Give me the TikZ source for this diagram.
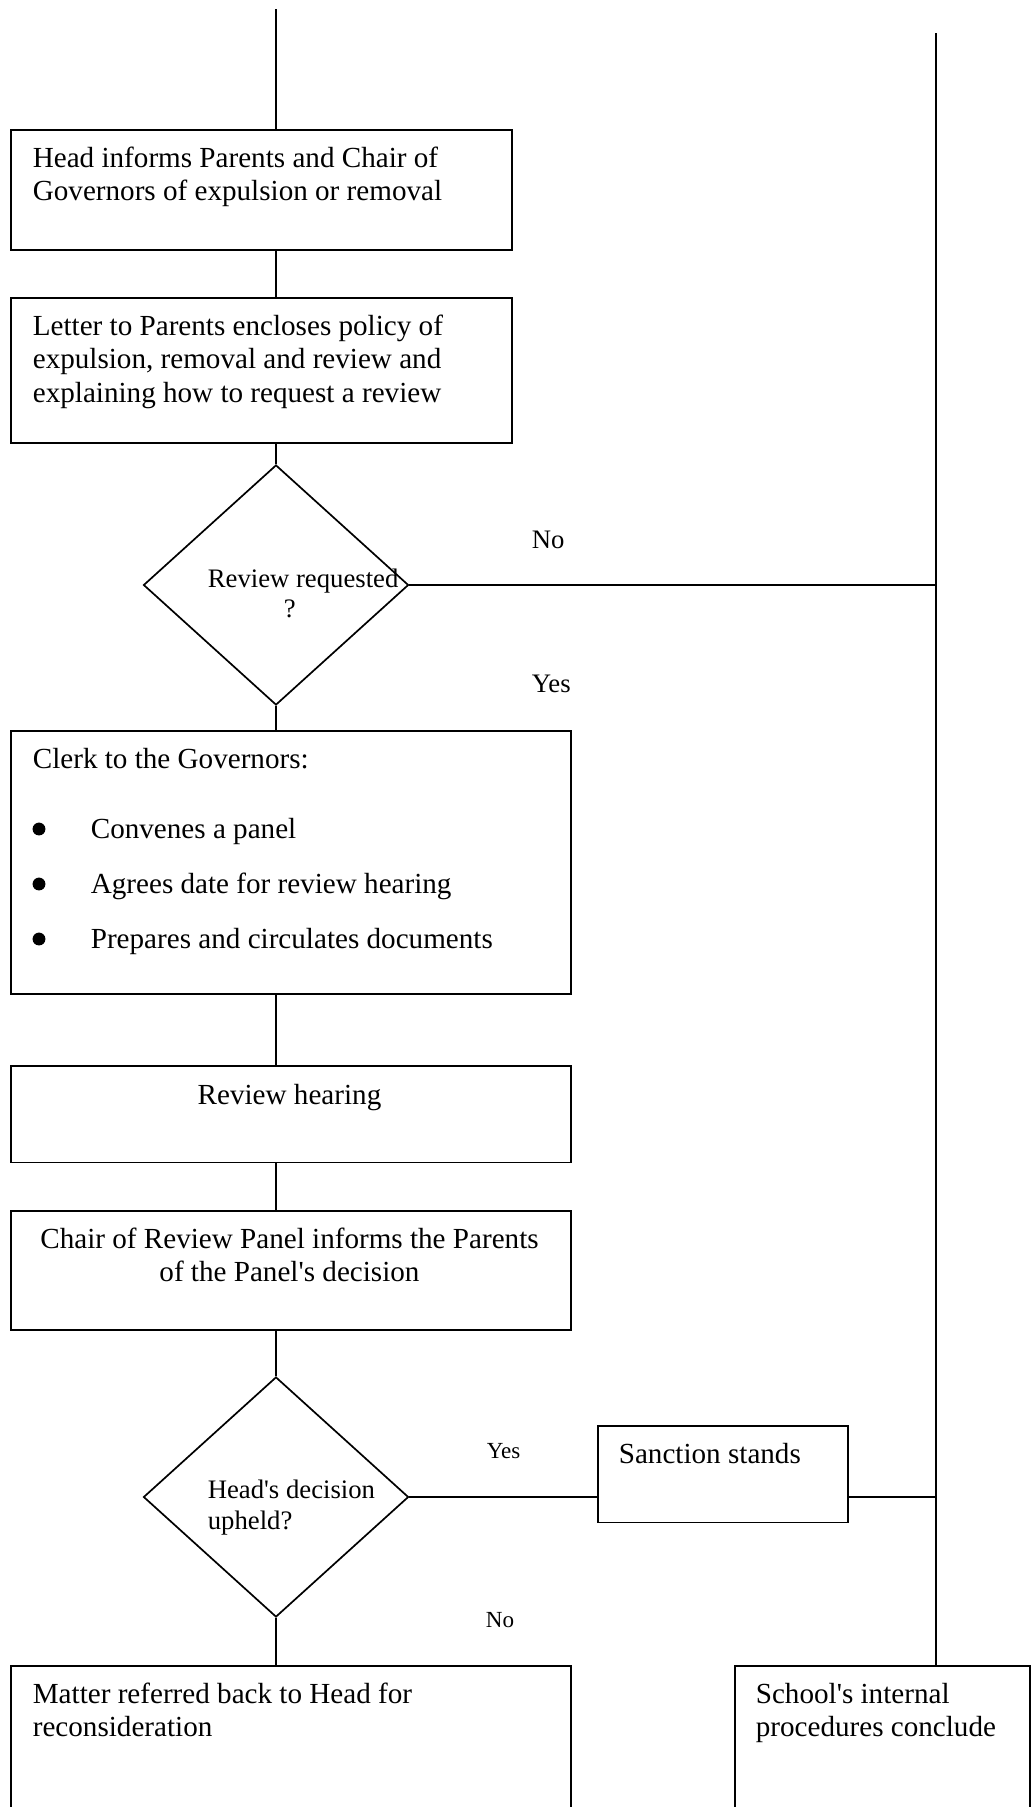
\documentclass[tikz,border=0pt]{standalone}
\usepackage{fontspec}
\setmainfont{Liberation Serif}[Ligatures=TeXOff]
\usetikzlibrary{shapes.geometric}

\begin{document}
\begin{tikzpicture}[x=0.412pt,y=-0.412pt,line width=0.7pt,
		box/.style={draw,rectangle,anchor=north west,inner sep=0pt,minimum width=230.7pt},
		decision/.style={draw,diamond,inner sep=0pt,minimum width=109.2pt,minimum height=98.9pt},
		txt/.style={anchor=base west,inner sep=0pt,align=left,font=\fontsize{12}{13.8}\selectfont},
		ctxt/.style={txt,anchor=base,align=center},
		small/.style={anchor=base west,inner sep=0pt,align=left,font=\fontsize{11}{12.65}\selectfont},
		tiny/.style={small,font=\fontsize{9.5}{11}\selectfont},
		dot/.style={circle,fill,inner sep=0pt,minimum size=5.3pt}]
	\useasboundingbox (0,0) rectangle (1030,1807);

	\coordinate (ltop) at (276,9);
	\coordinate (rtop) at (936,33);

	% boxes
	\node (inform) at (10,129)[box,minimum width=206.4pt,minimum height=49.6pt]{};
	\node (letter) at (10,297)[box,minimum width=206.4pt,minimum height=59.7pt]{};
	\node (req) at (276,585)[decision]{};
	\node (clerk) at (10,730)[box,minimum height=108.5pt]{};
	\node (hearing) at (10,1065)[box,minimum height=39.8pt]{};
	\node (chair) at (10,1210)[box,minimum height=49.2pt]{};
	\node (upheld) at (276,1497)[decision]{};
	\node (sanction) at (597,1425)[box,minimum width=103pt,minimum height=39.8pt]{};
	\node (matter) at (10,1665)[box,minimum height=68pt]{};
	\node (concl) at (734,1665)[box,minimum width=121.5pt,minimum height=68pt]{};

	% texts (multi-line nodes sit on the baseline of their last line)
	\node (tinform) at (32,200.5)[txt]{Head informs Parents and Chair of\\Governors of expulsion or removal};
	\node (tletter) at (32,402)[txt]{Letter to Parents encloses policy of\\expulsion, removal and review and\\explaining how to request a review};
	\node (treq) at (207,587)[small]{Review requested};
	\node (treqq) at (283,617)[small]{?};
	\node (no1) at (531,548)[small]{No};
	\node (yes1) at (531,692)[small]{Yes};
	\node (tclerk) at (32,768)[txt]{Clerk to the Governors:};
	\foreach \y/\what [count=\i] in {838/Convenes a panel,893/Agrees date for review hearing,948/Prepares and circulates documents}{
		\node (dot\i) at (39,\y-9)[dot]{};
		\node (item\i) at (90,\y)[txt]{\what};
	}
	\node (thearing) at (289.5,1104)[ctxt]{Review hearing};
	\node (tchair) at (289.5,1281.5)[ctxt]{Chair of Review Panel informs the Parents\\of the Panel's decision};
	\node (tupheld) at (207,1529)[small]{Head's decision\\upheld?};
	\node (yes2) at (486,1458)[tiny]{Yes};
	\node (no2) at (485,1627)[tiny]{No};
	\node (tsanction) at (618,1463)[txt]{Sanction stands};
	\node (tmatter) at (32,1736.5)[txt]{Matter referred back to Head for\\reconsideration};
	\node (tconcl) at (755,1736.5)[txt]{School's internal\\procedures conclude};

	% connectors
	\draw (ltop) -- (ltop |- inform.north);
	\draw (ltop |- inform.south) -- (ltop |- letter.north);
	\draw (ltop |- letter.south) -- (req.north);
	\draw (req.south) -- (req.south |- clerk.north);
	\draw (req.south |- clerk.south) -- (req.south |- hearing.north);
	\draw (req.south |- hearing.south) -- (req.south |- chair.north);
	\draw (req.south |- chair.south) -- (upheld.north);
	\draw (upheld.south) -- (upheld.south |- matter.north);
	\draw (req.east) -- (req.east -| rtop);
	\draw (upheld.east) -- (sanction.west |- upheld.east);
	\draw (sanction.east |- upheld.east) -- (rtop |- upheld.east);
	\draw (rtop) -- (rtop |- concl.north);
\end{tikzpicture}
\end{document}
